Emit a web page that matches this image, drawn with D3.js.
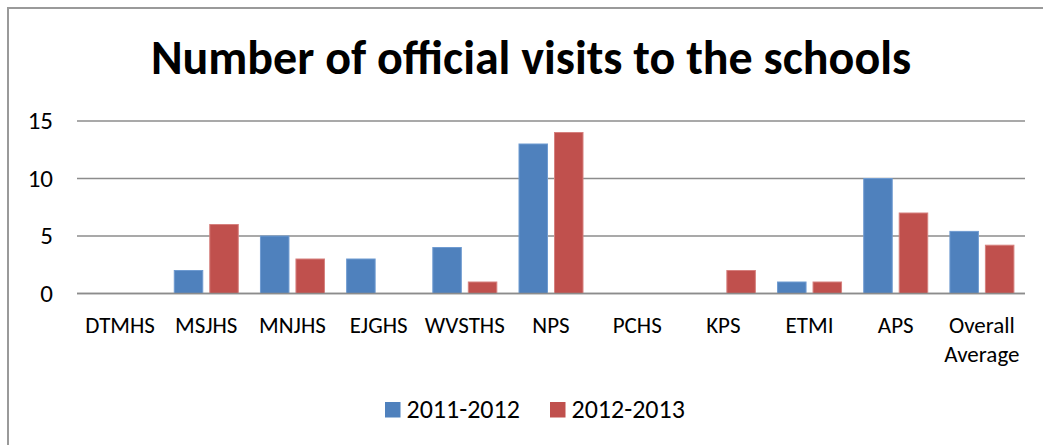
<!DOCTYPE html>
<html>
<head>
<meta charset="utf-8">
<script src="https://cdn.jsdelivr.net/npm/d3@7"></script>
<style>
  html, body { margin: 0; padding: 0; background: #fff; }
  svg { display: block; }
</style>
</head>
<body>
<svg id="chart" width="1043" height="445"></svg>
<script>
// Schools and their official visit counts per school year
const categories = ["DTMHS", "MSJHS", "MNJHS", "EJGHS", "WVSTHS", "NPS", "PCHS", "KPS", "ETMI", "APS", "Overall Average"];
const series2011 = [0, 2, 5, 3, 4, 13, 0, 0, 1, 10, 5.4];
const series2012 = [0, 6, 3, 0, 1, 14, 0, 2, 1, 7, 4.2];
const seriesNames = ["2011-2012", "2012-2013"];
const yTicks = [0, 5, 10, 15];

const colors = ["#4F81BD", "#C0504D"];
const strokes = ["#6f9bd1", "#d6807e"];
const font = "Carlito, Calibri, 'Open Sans', sans-serif";

const svg = d3.select("#chart");

// outer chart frame (only the left and top edges are in view)
svg.append("line").attr("x1", 8).attr("x2", 8).attr("y1", 7).attr("y2", 445)
  .attr("stroke", "#9a9a9a").attr("stroke-width", 2);
svg.append("line").attr("x1", 7).attr("x2", 1043).attr("y1", 8).attr("y2", 8)
  .attr("stroke", "#9a9a9a").attr("stroke-width", 2);

// title
svg.append("text")
  .attr("x", 531).attr("y", 74)
  .attr("text-anchor", "middle")
  .attr("font-family", font)
  .attr("font-weight", "bold")
  .attr("font-size", 48)
  .attr("fill", "#000")
  .text("Number of official visits to the schools");

const plot = { left: 77, right: 1025, top: 121, bottom: 293.5 };

const x = d3.scaleBand().domain(categories).range([plot.left, plot.right]);
const y = d3.scaleLinear().domain([0, 15]).range([plot.bottom, plot.top]);

// horizontal gridlines
svg.append("g").selectAll("line").data(yTicks).join("line")
  .attr("x1", plot.left).attr("x2", plot.right)
  .attr("y1", d => y(d)).attr("y2", d => y(d))
  .attr("stroke", "#8c8c8c").attr("stroke-width", 1.6);

// y tick labels
svg.append("g").selectAll("text").data(yTicks).join("text")
  .attr("x", 53).attr("y", d => y(d) + 8)
  .attr("text-anchor", "end")
  .attr("font-family", font).attr("font-size", 25).attr("fill", "#000")
  .text(d => d);

// bars: two per school, with a small gap between them
const barW = 28.5, innerGap = 7;
const data = [series2011, series2012];
data.forEach((vals, si) => {
  svg.append("g").selectAll("rect")
    .data(categories.map((c, i) => ({ c, v: vals[i] })).filter(d => d.v > 0))
    .join("rect")
    .attr("x", d => x(d.c) + x.bandwidth() / 2 + (si === 0 ? -(barW + innerGap / 2) : innerGap / 2))
    .attr("y", d => y(d.v))
    .attr("width", barW)
    .attr("height", d => y(0) - y(d.v))
    .attr("fill", colors[si])
    .attr("stroke", strokes[si])
    .attr("stroke-width", 1);
});

// baseline over the bars
svg.append("line")
  .attr("x1", plot.left).attr("x2", plot.right)
  .attr("y1", y(0)).attr("y2", y(0))
  .attr("stroke", "#8c8c8c").attr("stroke-width", 1.6);

// category labels, wrapped onto two lines where needed
const xl = svg.append("g").selectAll("text").data(categories).join("text")
  .attr("x", d => x(d) + x.bandwidth() / 2)
  .attr("y", 333)
  .attr("text-anchor", "middle")
  .attr("font-family", font).attr("font-size", 23).attr("fill", "#000");
xl.each(function(d) {
  const words = d.split(" ");
  d3.select(this).selectAll("tspan").data(words).join("tspan")
    .attr("x", x(d) + x.bandwidth() / 2)
    .attr("dy", (w, i) => i === 0 ? 0 : 28.5)
    .text(w => w);
});

// legend
const legendX = [385, 550];
seriesNames.forEach((name, i) => {
  svg.append("rect")
    .attr("x", legendX[i]).attr("y", 402)
    .attr("width", 15.5).attr("height", 15.5)
    .attr("fill", colors[i]);
  svg.append("text")
    .attr("x", legendX[i] + 21.5).attr("y", 418)
    .attr("font-family", font).attr("font-size", 26).attr("fill", "#000")
    .text(name);
});
</script>
</body>
</html>
